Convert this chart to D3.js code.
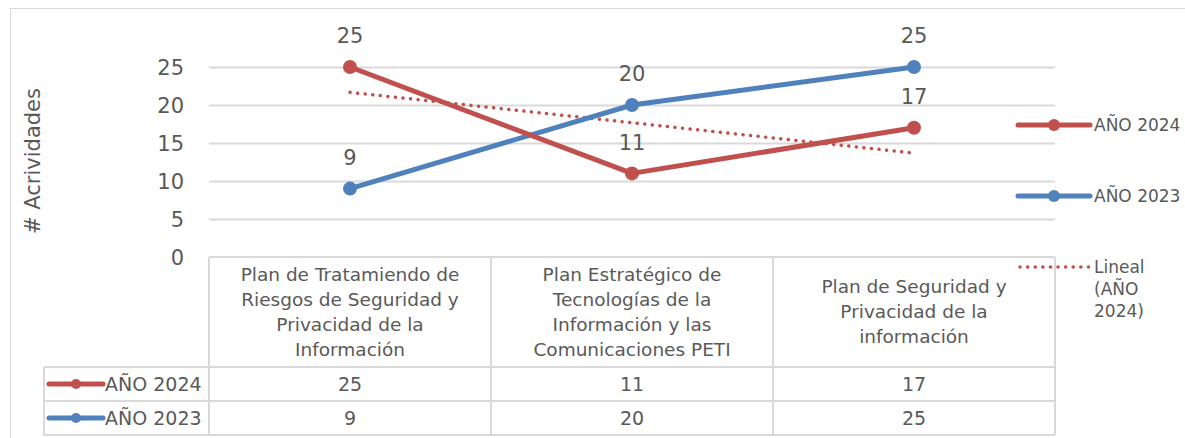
<!DOCTYPE html>
<html>
<head>
<meta charset="utf-8">
<script src="https://cdn.jsdelivr.net/npm/d3@7"></script>
<style>
  body { margin: 0; background: #fff; }
  svg text { font-family: "DejaVu Sans", sans-serif; fill: #595959; }
</style>
</head>
<body>
<div id="chartDiv"></div>
<script>
;(function() {

	var categories = [
		["Plan de Tratamiendo de", "Riesgos de Seguridad y", "Privacidad de la", "Información"],
		["Plan Estratégico de", "Tecnologías de la", "Información y las", "Comunicaciones PETI"],
		["Plan de Seguridad y", "Privacidad de la", "información"]
	];
	var catKeys = ["c1", "c2", "c3"];
	var values2024 = [25, 11, 17];
	var values2023 = [9, 20, 25];
	var yTicks = [0, 5, 10, 15, 20, 25];
	var yAxisTitle = "# Acrividades";
	var seriesNames = ["AÑO 2024", "AÑO 2023"];
	var trendName = ["Lineal", "(AÑO", "2024)"];

	var width = 1185;
	var height = 438;
	var plot = { left: 209, right: 1055, top: 67, bottom: 257 };
	var red = "#C0504D";
	var blue = "#4F81BD";
	var grid = "#D9D9D9";

	var series = [
		{ name: seriesNames[0], values: values2024, color: red },
		{ name: seriesNames[1], values: values2023, color: blue }
	];

	var svg = d3.select("#chartDiv").append("svg")
		.attr("width", width)
		.attr("height", height);

	// outer frame
	svg.append("rect")
		.attr("x", 10.5).attr("y", 8.5)
		.attr("width", 1200).attr("height", 440)
		.attr("fill", "none").attr("stroke", grid);

	var x = d3.scaleBand()
		.domain(catKeys)
		.range([plot.left, plot.right]);
	function cx(i) { return x(catKeys[i]) + x.bandwidth() / 2; }

	var y = d3.scaleLinear()
		.domain([0, 25])
		.range([plot.bottom, plot.top]);

	// gridlines
	svg.append("g").selectAll("line")
		.data(yTicks.filter(function(d) { return d > 0; }))
		.enter().append("line")
		.attr("x1", plot.left).attr("x2", plot.right)
		.attr("y1", function(d) { return Math.round(y(d)) + 0.5; })
		.attr("y2", function(d) { return Math.round(y(d)) + 0.5; })
		.attr("stroke", grid).attr("stroke-width", 2);

	// y axis labels
	var yAxis = d3.axisLeft(y).tickValues(yTicks).tickSize(0).tickPadding(0);
	var yg = svg.append("g")
		.attr("transform", "translate(184,0)")
		.call(yAxis);
	yg.select(".domain").remove();
	yg.selectAll("text")
		.style("font-size", "21px")
		.attr("fill", "#595959")
		.attr("dy", "0.35em");

	// y axis title
	svg.append("text")
		.attr("text-anchor", "middle")
		.attr("transform", "translate(40,161) rotate(-90)")
		.style("font-size", "21px")
		.text(yAxisTitle);

	// table lines
	var rowY = [plot.bottom, 367, 401, 435];
	var tbl = svg.append("g").attr("stroke", grid).attr("stroke-width", 2);
	tbl.append("line").attr("x1", plot.left).attr("x2", plot.right).attr("y1", rowY[0]).attr("y2", rowY[0]);
	[1, 2, 3].forEach(function(k) {
		tbl.append("line").attr("x1", 44).attr("x2", plot.right).attr("y1", rowY[k]).attr("y2", rowY[k]);
	});
	var colX = catKeys.map(function(k) { return x(k); }).concat([plot.right]);
	colX.forEach(function(cxp) {
		tbl.append("line").attr("x1", cxp).attr("x2", cxp).attr("y1", rowY[0]).attr("y2", rowY[3]);
	});
	tbl.append("line").attr("x1", 44).attr("x2", 44).attr("y1", rowY[1]).attr("y2", rowY[3]);

	// category header text
	categories.forEach(function(lines, i) {
		var n = lines.length;
		var midY = (rowY[0] + rowY[1]) / 2;
		var t = svg.append("text")
			.attr("text-anchor", "middle")
			.style("font-size", "18.5px");
		lines.forEach(function(l, j) {
			t.append("tspan")
				.attr("x", cx(i))
				.attr("y", midY + (j - (n - 1) / 2) * 25)
				.attr("dy", "0.35em")
				.text(l);
		});
	});

	// table values + legend keys
	series.forEach(function(s, si) {
		var ry = (rowY[si + 1] + rowY[si + 2]) / 2;
		s.values.forEach(function(v, i) {
			svg.append("text")
				.attr("x", cx(i)).attr("y", ry).attr("dy", "0.35em")
				.attr("text-anchor", "middle")
				.style("font-size", "19px")
				.text(v);
		});
		svg.append("line")
			.attr("x1", 49).attr("x2", 103).attr("y1", ry).attr("y2", ry)
			.attr("stroke", s.color).attr("stroke-width", 5).attr("stroke-linecap", "round");
		svg.append("circle").attr("cx", 76).attr("cy", ry).attr("r", 5).attr("fill", s.color);
		svg.append("text")
			.attr("x", 105).attr("y", ry).attr("dy", "0.35em")
			.style("font-size", "19px")
			.text(s.name);
	});

	// linear trend of 2024
	var xs = values2024.map(function(d, i) { return i + 1; });
	var mx = d3.mean(xs), my = d3.mean(values2024);
	var slope = d3.sum(xs, function(xi, i) { return (xi - mx) * (values2024[i] - my); }) /
		d3.sum(xs, function(xi) { return (xi - mx) * (xi - mx); });
	var icpt = my - slope * mx;
	var trend = xs.map(function(xi) { return icpt + slope * xi; });

	var line = d3.line()
		.x(function(d, i) { return cx(i); })
		.y(function(d) { return y(d); });

	svg.append("path")
		.datum(trend)
		.attr("d", line)
		.attr("fill", "none")
		.attr("stroke", red).attr("stroke-width", 3.5)
		.attr("stroke-dasharray", "0.1,7.5").attr("stroke-linecap", "round");

	// series lines
	series.slice().reverse().forEach(function(s) {
		svg.append("path")
			.datum(s.values)
			.attr("d", line)
			.attr("fill", "none")
			.attr("stroke", s.color).attr("stroke-width", 5)
			.attr("stroke-linejoin", "round");
		svg.selectAll(null)
			.data(s.values)
			.enter().append("circle")
			.attr("cx", function(d, i) { return cx(i); })
			.attr("cy", function(d) { return y(d); })
			.attr("r", 7)
			.attr("fill", s.color);
	});

	// data labels
	series.forEach(function(s) {
		svg.selectAll(null)
			.data(s.values)
			.enter().append("text")
			.attr("x", function(d, i) { return cx(i); })
			.attr("y", function(d) { return y(d) - 31; })
			.attr("dy", "0.35em")
			.attr("text-anchor", "middle")
			.style("font-size", "21px")
			.text(function(d) { return d; });
	});

	// right legend
	var legX = 1018;
	series.forEach(function(s, si) {
		var ly = [125, 196][si];
		svg.append("line")
			.attr("x1", legX).attr("x2", legX + 72).attr("y1", ly).attr("y2", ly)
			.attr("stroke", s.color).attr("stroke-width", 5).attr("stroke-linecap", "round");
		svg.append("circle").attr("cx", legX + 36).attr("cy", ly).attr("r", 6).attr("fill", s.color);
		svg.append("text")
			.attr("x", legX + 76).attr("y", ly).attr("dy", "0.35em")
			.style("font-size", "17px")
			.text(s.name);
	});
	svg.append("line")
		.attr("x1", legX + 2).attr("x2", legX + 72).attr("y1", 267).attr("y2", 267)
		.attr("stroke", red).attr("stroke-width", 3.5)
		.attr("stroke-dasharray", "0.1,7.5").attr("stroke-linecap", "round");
	var lt = svg.append("text").style("font-size", "17px");
	trendName.forEach(function(l, j) {
		lt.append("tspan")
			.attr("x", legX + 76).attr("y", 267 + j * 22).attr("dy", "0.35em")
			.text(l);
	});

})();
</script>
</body>
</html>
